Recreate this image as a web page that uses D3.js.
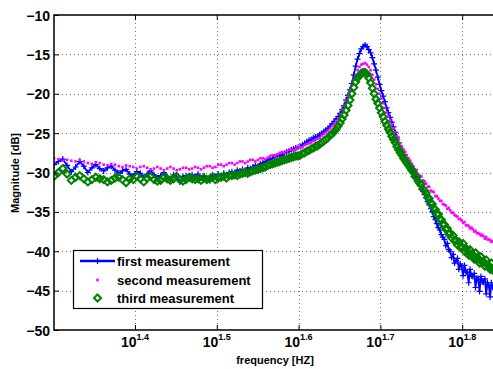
<!DOCTYPE html>
<html>
<head>
<meta charset="utf-8">
<script src="https://cdn.jsdelivr.net/npm/d3@7"></script>
<style>
  body { margin: 0; background: #fff; }
  svg { display: block; }
  text { font-family: "Liberation Sans", Arial, Helvetica, sans-serif !important; font-weight: bold !important; }
</style>
</head>
<body>
<svg id="chart" width="493" height="369"></svg>
<script>
// measured frequencies [Hz]
const freqs = [
  20, 20.25, 20.5, 20.75, 21, 21.25, 21.5, 21.75, 22, 22.25, 22.5, 22.75, 23, 23.25, 23.5, 23.75,
  24, 24.25, 24.5, 24.75, 25, 25.25, 25.5, 25.75, 26, 26.25, 26.5, 26.75, 27, 27.25, 27.5, 27.75,
  28, 28.25, 28.5, 28.75, 29, 29.25, 29.5, 29.75, 30, 30.25, 30.5, 30.75, 31, 31.25, 31.5, 31.75,
  32, 32.25, 32.5, 32.75, 33, 33.25, 33.5, 33.75, 34, 34.25, 34.5, 34.75, 35, 35.25, 35.5, 35.75,
  36, 36.25, 36.5, 36.75, 37, 37.25, 37.5, 37.75, 38, 38.25, 38.5, 38.75, 39, 39.25, 39.5, 39.75,
  40, 40.25, 40.5, 40.75, 41, 41.25, 41.5, 41.75, 42, 42.25, 42.5, 42.75, 43, 43.25, 43.5, 43.75,
  44, 44.25, 44.5, 44.75, 45, 45.25, 45.5, 45.75, 46, 46.25, 46.5, 46.75, 47, 47.25, 47.5, 47.75,
  48, 48.25, 48.5, 48.75, 49, 49.25, 49.5, 49.75, 50, 50.25, 50.5, 50.75, 51, 51.25, 51.5, 51.75,
  52, 52.25, 52.5, 52.75, 53, 53.25, 53.5, 53.75, 54, 54.25, 54.5, 54.75, 55, 55.25, 55.5, 55.75,
  56, 56.25, 56.5, 56.75, 57, 57.25, 57.5, 57.75, 58, 58.25, 58.5, 58.75, 59, 59.25, 59.5, 59.75,
  60, 60.25, 60.5, 60.75, 61, 61.25, 61.5, 61.75, 62, 62.25, 62.5, 62.75, 63, 63.25, 63.5, 63.75,
  64, 64.25, 64.5, 64.75, 65, 65.25, 65.5, 65.75, 66, 66.25, 66.5, 66.75, 67, 67.25, 67.5, 67.75,
  68, 68.25, 68.5, 68.75, 69
];

// magnitude [dB] of each measurement, one value per frequency
const firstMeasurement = [
  -29.0, -28.6, -28.3, -29.1, -29.9, -29.3, -28.6, -29.2, -30.0, -29.4, -29.0, -29.5, -29.8, -29.4, -29.2, -29.7,
  -30.1, -29.8, -29.6, -30.2, -30.4, -29.9, -30.1, -30.6, -30.2, -29.8, -30.3, -30.7, -30.4, -30.0, -30.5, -30.9,
  -30.3, -30.6, -31.2, -30.5, -30.4, -30.8, -30.3, -30.6, -30.2, -30.7, -30.4, -30.8, -31.0, -30.3, -30.5, -30.2,
  -30.4, -30.1, -30.3, -30.0, -29.9, -30.1, -29.7, -29.8, -29.6, -29.8, -29.4, -29.5, -29.3, -29.1, -29.2, -28.9,
  -28.8, -28.6, -28.4, -28.3, -28.2, -28.0, -27.9, -27.9, -27.8, -27.6, -27.4, -27.3, -27.1, -27.0, -26.9, -26.8,
  -26.7, -26.5, -26.3, -26.1, -25.9, -25.8, -25.6, -25.5, -25.4, -25.2, -25.0, -24.8, -24.6, -24.4, -24.1, -23.8,
  -23.5, -23.2, -22.9, -22.5, -22.0, -21.5, -20.8, -20.2, -19.5, -18.7, -17.6, -16.5, -15.6, -14.9, -14.3, -14.0,
  -13.8, -14.0, -14.4, -14.8, -15.4, -16.2, -17.0, -17.9, -18.8, -19.6, -20.3, -21.0, -21.8, -22.4, -23.0, -23.6,
  -24.2, -24.9, -25.5, -26.2, -26.9, -27.3, -27.8, -28.2, -28.6, -29.0, -29.3, -29.7, -30.0, -30.5, -30.9, -31.3,
  -31.7, -32.1, -32.4, -32.8, -33.2, -33.7, -34.1, -34.6, -35.0, -35.6, -36.0, -36.5, -37.0, -37.3, -37.9, -38.2,
  -38.5, -39.3, -39.0, -39.8, -40.0, -40.8, -40.4, -41.5, -41.2, -40.9, -42.3, -41.6, -42.0, -43.1, -41.8, -42.6,
  -42.7, -44.0, -42.3, -43.1, -43.2, -42.8, -44.6, -43.4, -43.6, -45.1, -43.2, -43.9, -43.9, -43.5, -45.4, -44.0,
  -44.3, -45.8, -44.0, -44.6, -44.6
];

const secondMeasurement = [
  -28.2, -28.3, -28.5, -28.4, -28.5, -28.6, -28.4, -28.6, -28.8, -28.9, -28.7, -28.8, -29.0, -29.1, -28.9, -29.0,
  -29.2, -29.3, -29.1, -29.2, -29.3, -29.5, -29.3, -29.2, -29.4, -29.6, -29.5, -29.3, -29.5, -29.7, -29.5, -29.3,
  -29.5, -29.7, -29.6, -29.4, -29.4, -29.6, -29.5, -29.3, -29.4, -29.6, -29.4, -29.2, -29.2, -29.4, -29.3, -29.0,
  -29.0, -29.2, -29.0, -28.8, -28.8, -29.0, -28.8, -28.6, -28.6, -28.8, -28.6, -28.4, -28.4, -28.6, -28.4, -28.2,
  -28.2, -28.3, -28.1, -27.9, -27.8, -27.9, -27.7, -27.5, -27.4, -27.5, -27.3, -27.1, -27.1, -27.2, -27.0, -26.8,
  -26.8, -26.8, -26.5, -26.4, -26.3, -26.2, -26.0, -25.9, -25.7, -25.6, -25.3, -25.1, -24.9, -24.7, -24.4, -24.1,
  -23.8, -23.5, -23.1, -22.6, -22.0, -21.5, -20.9, -20.3, -19.6, -18.9, -18.2, -17.6, -17.0, -16.6, -16.3, -16.2,
  -16.1, -16.3, -16.6, -17.0, -17.6, -18.2, -18.8, -19.4, -20.0, -20.6, -21.2, -21.8, -22.4, -22.9, -23.4, -23.9,
  -24.4, -24.9, -25.4, -25.8, -26.3, -26.7, -27.1, -27.4, -27.8, -28.2, -28.5, -28.9, -29.2, -29.6, -29.7, -30.2,
  -30.4, -30.5, -31.0, -31.1, -31.4, -31.8, -31.8, -32.3, -32.4, -32.5, -33.0, -33.0, -33.3, -33.6, -33.6, -34.0,
  -34.1, -34.2, -34.6, -34.5, -34.8, -35.1, -35.1, -35.4, -35.5, -35.6, -35.9, -35.9, -36.1, -36.4, -36.3, -36.7,
  -36.7, -36.8, -37.1, -37.0, -37.2, -37.5, -37.4, -37.7, -37.7, -37.8, -38.0, -37.9, -38.1, -38.4, -38.2, -38.5,
  -38.5, -38.6, -38.8, -38.7, -38.8
];

const thirdMeasurement = [
  -30.5, -30.0, -29.5, -30.2, -31.0, -30.6, -30.4, -30.8, -31.2, -30.9, -30.6, -30.8, -30.9, -31.2, -31.0, -30.7,
  -30.6, -30.9, -31.3, -30.8, -30.9, -30.5, -30.8, -31.2, -30.7, -30.5, -30.9, -31.1, -31.0, -30.6, -30.8, -31.0,
  -30.8, -30.5, -30.9, -31.1, -30.9, -30.6, -30.8, -30.9, -30.8, -31.0, -30.7, -30.9, -30.8, -30.6, -30.9, -30.7,
  -30.6, -30.5, -30.7, -30.4, -30.4, -30.3, -30.4, -30.2, -30.1, -30.0, -30.1, -29.9, -29.8, -29.7, -29.6, -29.5,
  -29.4, -29.3, -29.1, -29.0, -28.9, -28.8, -28.7, -28.6, -28.5, -28.4, -28.3, -28.2, -28.1, -28.0, -27.9, -27.9,
  -27.8, -27.6, -27.5, -27.3, -27.2, -27.0, -26.9, -26.7, -26.6, -26.4, -26.2, -26.0, -25.8, -25.6, -25.3, -25.1,
  -24.8, -24.5, -24.1, -23.7, -23.2, -22.7, -22.1, -21.5, -20.8, -20.0, -19.2, -18.5, -18.0, -17.7, -17.4, -17.3,
  -17.3, -17.5, -18.0, -18.6, -19.3, -20.0, -20.7, -21.2, -21.8, -22.4, -22.9, -23.5, -24.0, -24.5, -24.9, -25.4,
  -25.8, -26.2, -26.7, -27.1, -27.5, -27.8, -28.2, -28.5, -28.8, -29.1, -29.4, -29.7, -30.0, -30.5, -30.6, -31.1,
  -31.4, -31.5, -32.1, -32.3, -32.6, -33.2, -33.3, -33.9, -34.0, -34.5, -34.7, -35.3, -35.3, -35.9, -36.0, -36.6,
  -36.6, -37.2, -37.1, -37.8, -37.7, -38.3, -38.0, -38.7, -38.6, -39.2, -38.8, -39.5, -39.4, -39.0, -40.0, -39.6,
  -39.9, -40.5, -39.8, -40.6, -40.4, -41.0, -40.2, -41.1, -40.9, -41.5, -40.7, -41.4, -41.3, -41.9, -41.1, -41.8,
  -41.8, -42.3, -41.5, -42.4, -42.2
];

const seriesNames = ["first measurement", "second measurement", "third measurement"];
const yTicks = [-50, -45, -40, -35, -30, -25, -20, -15, -10];
const xTickExponents = ["1.4", "1.5", "1.6", "1.7", "1.8"];

const svg = d3.select("#chart");
const plot = { left: 54, top: 15, right: 494, bottom: 330 };

const x = d3.scaleLog().domain([20, 69]).range([plot.left, plot.right]);
const y = d3.scaleLinear().domain([-50, -10]).range([plot.bottom, plot.top]);

const xTickValues = xTickExponents.map(e => Math.pow(10, +e));

// dotted grid
const grid = svg.append("g").attr("stroke", "#000").attr("stroke-opacity", 0.55)
  .attr("stroke-dasharray", "1,3").attr("stroke-width", 1);
grid.selectAll(".gx").data(xTickValues).enter().append("line")
  .attr("x1", d => Math.round(x(d)) + 0.5).attr("x2", d => Math.round(x(d)) + 0.5)
  .attr("y1", plot.top).attr("y2", plot.bottom);
grid.selectAll(".gy").data(yTicks.slice(1, -1)).enter().append("line")
  .attr("x1", plot.left).attr("x2", plot.right)
  .attr("y1", d => Math.round(y(d)) + 0.5).attr("y2", d => Math.round(y(d)) + 0.5);

svg.append("clipPath").attr("id", "clip").append("rect")
  .attr("x", plot.left).attr("y", plot.top)
  .attr("width", plot.right - plot.left).attr("height", plot.bottom - plot.top);

const data = freqs.map((f, i) => ({ f, a: firstMeasurement[i], b: secondMeasurement[i], c: thirdMeasurement[i] }));
const g = svg.append("g").attr("clip-path", "url(#clip)");

// first measurement: blue line with plus markers
g.append("path").datum(data)
  .attr("fill", "none").attr("stroke", "#0000ff").attr("stroke-width", 1.8)
  .attr("d", d3.line().x(d => x(d.f)).y(d => y(d.a)));
g.append("path")
  .attr("fill", "none").attr("stroke", "#0000ff").attr("stroke-width", 1.2)
  .attr("d", data.map(d => {
    const px = x(d.f), py = y(d.a);
    return `M${px - 3},${py}H${px + 3}M${px},${py - 3}V${py + 3}`;
  }).join(""));

// second measurement: magenta dots
g.selectAll(".dot").data(data).enter().append("rect")
  .attr("x", d => x(d.f) - 1.3).attr("y", d => y(d.b) - 1.3)
  .attr("width", 2.6).attr("height", 2.6).attr("fill", "#ff00ff");

// third measurement: green diamonds
const diamond = (px, py, r) => `M${px},${py - r}L${px + r},${py}L${px},${py + r}L${px - r},${py}Z`;
g.append("path")
  .attr("fill", "none").attr("stroke", "#008000").attr("stroke-width", 2)
  .attr("d", data.map(d => diamond(x(d.f), y(d.c), 3.5)).join(""));

// axes (ticks point inward)
const yAxis = svg.append("g").attr("transform", `translate(${plot.left},0)`)
  .call(d3.axisLeft(y).tickValues(yTicks).tickSize(-5).tickPadding(4));
const xAxis = svg.append("g").attr("transform", `translate(0,${plot.bottom})`)
  .call(d3.axisBottom(x).tickValues(xTickValues).tickSize(-5).tickFormat(""));
svg.append("g").attr("transform", `translate(0,${plot.top})`)
  .call(d3.axisTop(x).tickValues(xTickValues).tickSize(-5).tickFormat(""));

svg.selectAll(".tick line").attr("stroke", "#000");
yAxis.selectAll("text").attr("font-size", 14).attr("fill", "#000").attr("dy", "0.36em");

// frame: left, bottom, top
svg.selectAll(".domain").remove();
svg.append("path")
  .attr("d", `M${plot.right},${plot.top}H${plot.left}V${plot.bottom}H${plot.right}`)
  .attr("fill", "none").attr("stroke", "#000").attr("stroke-width", 1.5);

// x tick labels 10^e
const xl = svg.append("g");
xTickExponents.forEach((e, i) => {
  const t = xl.append("text").attr("x", x(xTickValues[i])).attr("y", 347)
    .attr("text-anchor", "middle").attr("font-size", 14).attr("fill", "#000");
  t.append("tspan").text("10");
  t.append("tspan").attr("dy", -7).attr("font-size", 9).text(e);
});

// axis titles
svg.append("text").attr("x", 275).attr("y", 364).attr("text-anchor", "middle")
  .attr("font-size", 11).text("frequency [HZ]");
svg.append("text").attr("transform", "translate(19,173) rotate(-90)").attr("text-anchor", "middle")
  .attr("font-size", 11).text("Magnitude [dB]");

// legend
const lg = svg.append("g");
lg.append("rect").attr("x", 73.5).attr("y", 250.5).attr("width", 189).attr("height", 58)
  .attr("fill", "#fff").attr("stroke", "#000").attr("stroke-width", 1.2);
const rowY = [261, 280, 298];
lg.append("line").attr("x1", 80).attr("x2", 115).attr("y1", rowY[0]).attr("y2", rowY[0])
  .attr("stroke", "#0000ff").attr("stroke-width", 2.5);
lg.append("path").attr("stroke", "#0000ff").attr("stroke-width", 1.2)
  .attr("d", `M94.5,${rowY[0]}H100.5M97.5,${rowY[0] - 3}V${rowY[0] + 3}`);
lg.append("rect").attr("x", 96.2).attr("y", rowY[1] - 1.3).attr("width", 2.6).attr("height", 2.6).attr("fill", "#ff00ff");
lg.append("path").attr("fill", "none").attr("stroke", "#008000").attr("stroke-width", 2)
  .attr("d", diamond(97.5, rowY[2], 3.5));
lg.selectAll(".lt").data(seriesNames).enter().append("text")
  .attr("x", 117).attr("y", (d, i) => rowY[i] + 4.5)
  .attr("font-size", 13).attr("fill", "#000").text(d => d);
</script>
</body>
</html>
